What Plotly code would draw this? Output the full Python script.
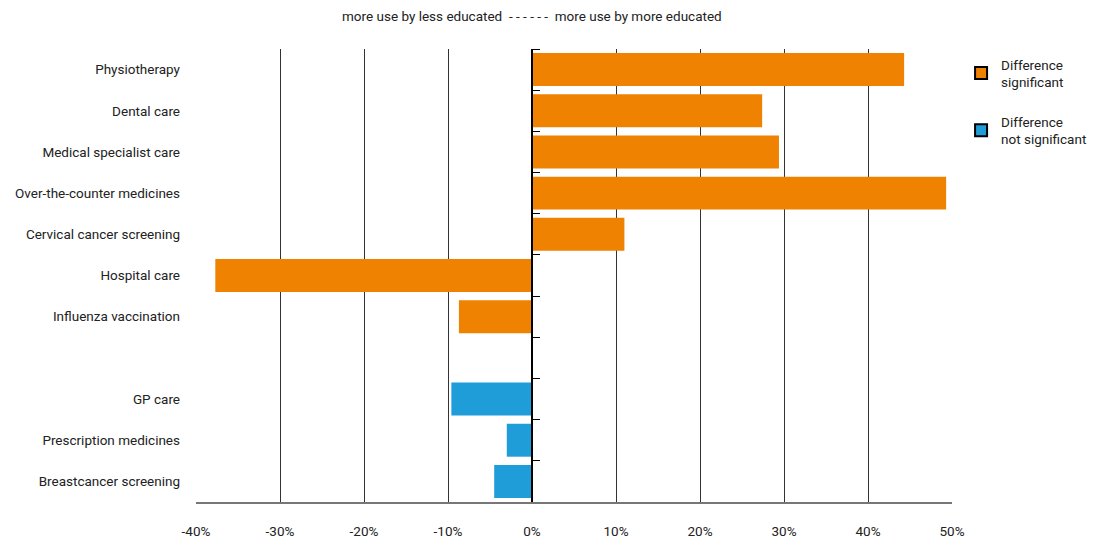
import plotly.graph_objs as go

# categories top to bottom; " " is the empty gap row
categories = ['Physiotherapy', 'Dental care', 'Medical specialist care',
              'Over-the-counter medicines', 'Cervical cancer screening',
              'Hospital care', 'Influenza vaccination', ' ',
              'GP care', 'Prescription medicines', 'Breastcancer screening']

sig_labels = categories[:7]
sig_values = [44.3, 27.4, 29.4, 49.3, 11.0, -37.7, -8.7]

nonsig_labels = categories[8:]
nonsig_values = [-9.6, -3.0, -4.5]

x_ticks = [-40, -30, -20, -10, 0, 10, 20, 30, 40, 50]
x_ticktext = ['%d%%' % v for v in x_ticks]

orange = '#EF8200'
blue = '#1F9DD9'
font = dict(family='Roboto, sans-serif', size=13.5, color='#222')

fig = go.Figure()
fig.add_trace(go.Bar(x=sig_values, y=sig_labels, orientation='h', width=0.8,
                     marker=dict(color=orange, line=dict(width=0)), showlegend=False))
fig.add_trace(go.Bar(x=nonsig_values, y=nonsig_labels, orientation='h', width=0.8,
                     marker=dict(color=blue, line=dict(width=0)), showlegend=False))
# legend-only entries with a black outline
fig.add_trace(go.Bar(x=[None], y=[categories[0]], orientation='h',
                     name='Difference<br>significant', legendgroup='sig',
                     marker=dict(color=orange, line=dict(color='black', width=1))))
fig.add_trace(go.Bar(x=[None], y=[categories[0]], orientation='h',
                     name='Difference<br>not significant', legendgroup='nonsig',
                     marker=dict(color=blue, line=dict(color='black', width=1))))
# invisible trace to carry the tick axis at zero
fig.add_trace(go.Scatter(x=[None] * len(categories), y=categories, yaxis='y2',
                         mode='markers', showlegend=False, hoverinfo='skip'))

# page body has an 8px margin, so the figure is 8px smaller
fig.update_layout(
    width=1093, height=531,
    margin=dict(l=188, r=149, t=41, b=37, autoexpand=False),
    plot_bgcolor='white', paper_bgcolor='white',
    font=font,
    barmode='overlay',
    xaxis=dict(range=[-40, 50], tickvals=x_ticks, ticktext=x_ticktext,
               showgrid=True, gridcolor='#333', gridwidth=1,
               zeroline=False, showline=True, linecolor='#777', linewidth=2,
               ticks='', ticklabelstandoff=16, domain=[0, 1], automargin=False),
    yaxis=dict(categoryorder='array', categoryarray=categories,
               range=[len(categories) - 0.5, -0.5],
               showgrid=False, zeroline=False, showline=False,
               ticks='', ticklabelstandoff=15, automargin=False),
    yaxis2=dict(overlaying='y', categoryorder='array', categoryarray=categories,
                range=[len(categories) - 0.5, -0.5], anchor='free',
                position=40 / 90, side='right', showline=True,
                linecolor='black', linewidth=2, ticks='outside',
                tickson='boundaries', ticklen=7, tickcolor='black',
                showticklabels=False, showgrid=False, zeroline=False,
                automargin=False),
    legend=dict(x=1.012, xanchor='left', y=1.0, yanchor='top',
                traceorder='grouped', tracegroupgap=19, font=font,
                itemsizing='constant'),
    annotations=[dict(x=0, xref='x', y=1.05, yref='paper', yanchor='bottom',
                      text='more use by less educated  - - - - - -  more use by more educated',
                      showarrow=False, font=font)],
)

fig.write_html("out.html")
